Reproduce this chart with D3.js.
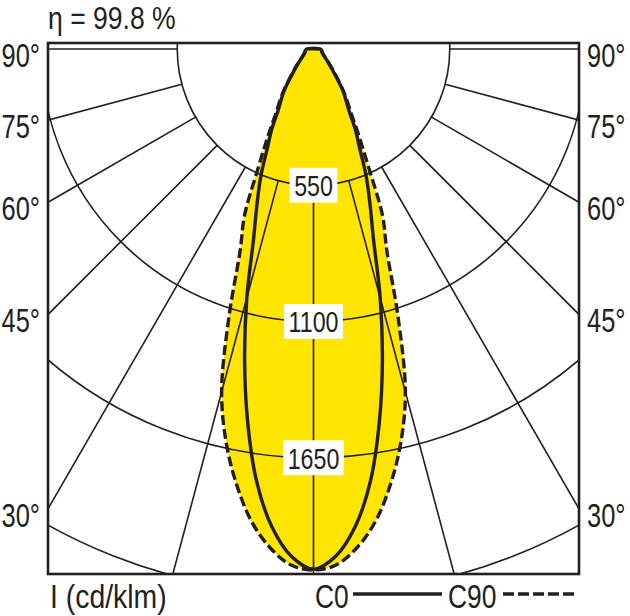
<!DOCTYPE html>
<html><head><meta charset="utf-8">
<script src="https://cdn.jsdelivr.net/npm/d3@7"></script>
<style>
html,body{margin:0;padding:0;background:#fff;}
svg text{font-family:"Liberation Sans",Arial,Helvetica,sans-serif;fill:#231f20;}
</style></head>
<body>
<svg id="chart" width="630" height="616"></svg>
<script>
// ---- data ----
const gammaDeg = [0,2.5,5,7.5,10,12.5,15,17.5,20,22.5,25,27.5,30,35,40,45,50,55,60,65,70,75,80,85,90];
const c0Values  = [2100,2050,1935,1760,1530,1285,1040,805,667,555,440,365,285,208,135,95,70,55,45,40,37,35,33,31,28];
const c90Values = [2103,2085,2020,1922,1786,1628,1433,1136,865,728,525,400,310,215,142,98,72,56,46,41,37,35,33,31,28];
const ringValues = [550,1100,1650,2200];
const ringLabels = ["550","1100","1650"];
const spokeAngles = [0,15,30,45,60,75,90];
const angleLabelValues = [30,45,60,75,90];
const angleLabelTexts = ["30°","45°","60°","75°","90°"];
const titleText = "η = 99.8 %";
const unitText = "I (cd/klm)";
const seriesNames = ["C0","C90"];

// ---- layout ----
const fx0 = 48, fx1 = 579, fy0 = 43, fy1 = 574;
const cx = (fx0 + fx1) / 2, cy = 49;
const ink = "#231f20", yellow = "#ffe500";
const narrow = 0.8;
const bigFont = 33;

const svg = d3.select("#chart");
const r = d3.scaleLinear().domain([0, 2200]).range([0, 545]);
const rad = d => d * Math.PI / 180;

function addText(parent, x, y, str, size, anchor, central, sx){
  const t = parent.append("g").attr("transform",`translate(${x},${y}) scale(${sx || narrow},1)`)
    .append("text").attr("x",0).attr("y",0).attr("font-size",size)
    .attr("text-anchor",anchor || "start").text(str);
  if (central) t.attr("dominant-baseline","central");
  return t;
}

svg.append("defs").append("clipPath").attr("id","frameClip")
  .append("rect").attr("x",fx0).attr("y",fy0).attr("width",fx1-fx0).attr("height",fy1-fy0);

const g = svg.append("g").attr("clip-path","url(#frameClip)");
const pg = g.append("g").attr("transform",`translate(${cx},${cy})`);

function buildPoints(values){
  const pts = [];
  for (let i = gammaDeg.length - 1; i >= 0; i--) pts.push({a: Math.PI - rad(gammaDeg[i]), v: values[i]});
  for (let i = 1; i < gammaDeg.length; i++) pts.push({a: Math.PI + rad(gammaDeg[i]), v: values[i]});
  return pts;
}
const radial = d3.lineRadial().angle(d => d.a).radius(d => r(d.v)).curve(d3.curveCatmullRomClosed.alpha(0.5));
const p0 = buildPoints(c0Values), p90 = buildPoints(c90Values);

// fill
pg.append("path").attr("d", radial(p90)).attr("fill", yellow);
pg.append("path").attr("d", radial(p0)).attr("fill", yellow);

// grid circles
pg.selectAll("circle.ring").data(ringValues).join("circle")
  .attr("class","ring").attr("r", d => r(d))
  .attr("fill","none").attr("stroke",ink).attr("stroke-width",1.6);

// spokes
const spokes = [];
spokeAngles.forEach(s => { spokes.push(Math.PI - rad(s)); if (s !== 0) spokes.push(Math.PI + rad(s)); });
const rOuter = 900;
pg.selectAll("line.spoke").data(spokes).join("line")
  .attr("class","spoke")
  .attr("x1", a => r(ringValues[0]) * Math.sin(a)).attr("y1", a => -r(ringValues[0]) * Math.cos(a))
  .attr("x2", a => rOuter * Math.sin(a)).attr("y2", a => -rOuter * Math.cos(a))
  .attr("stroke",ink).attr("stroke-width",1.6);

// curves
pg.append("path").attr("d", radial(p90)).attr("fill","none")
  .attr("stroke",ink).attr("stroke-width",3.4).attr("stroke-dasharray","10,4");
pg.append("path").attr("d", radial(p0)).attr("fill","none")
  .attr("stroke",ink).attr("stroke-width",3.4);

// ring labels
ringLabels.forEach((t, i) => {
  const y = r(ringValues[i]);
  const lg = pg.append("g");
  const box = lg.append("rect").attr("fill","#fff");
  const tx = addText(lg, 0, y + 1, t, 29, "middle", true);
  const w = tx.node().getBBox().width * narrow;
  box.attr("x", -w/2 - 4.5).attr("y", y - 17.5).attr("width", w + 9).attr("height", 35);
});

// frame
svg.append("rect").attr("x",fx0).attr("y",fy0).attr("width",fx1-fx0).attr("height",fy1-fy0)
  .attr("fill","none").attr("stroke",ink).attr("stroke-width",2.6);

// angle labels
angleLabelValues.forEach((a, i) => {
  const y = a === 90 ? cy : cy + (cx - fx0) / Math.tan(rad(a));
  addText(svg, 40, y + 6, angleLabelTexts[i], bigFont, "end", true, 0.77);
  addText(svg, 587, y + 6, angleLabelTexts[i], bigFont, "start", true, 0.77);
});

// title
addText(svg, 48, 29, titleText, 32, "start", false, 0.83);
// bottom legend
addText(svg, 50, 608, unitText, bigFont, "start", false, 0.86);
addText(svg, 315, 608, seriesNames[0], bigFont, "start");
svg.append("line").attr("x1",353).attr("x2",442).attr("y1",594).attr("y2",594)
  .attr("stroke",ink).attr("stroke-width",3.4);
addText(svg, 448, 608, seriesNames[1], bigFont, "start");
svg.append("line").attr("x1",503).attr("x2",577).attr("y1",594).attr("y2",594)
  .attr("stroke",ink).attr("stroke-width",3.4).attr("stroke-dasharray","11,4");
</script>
</body></html>
